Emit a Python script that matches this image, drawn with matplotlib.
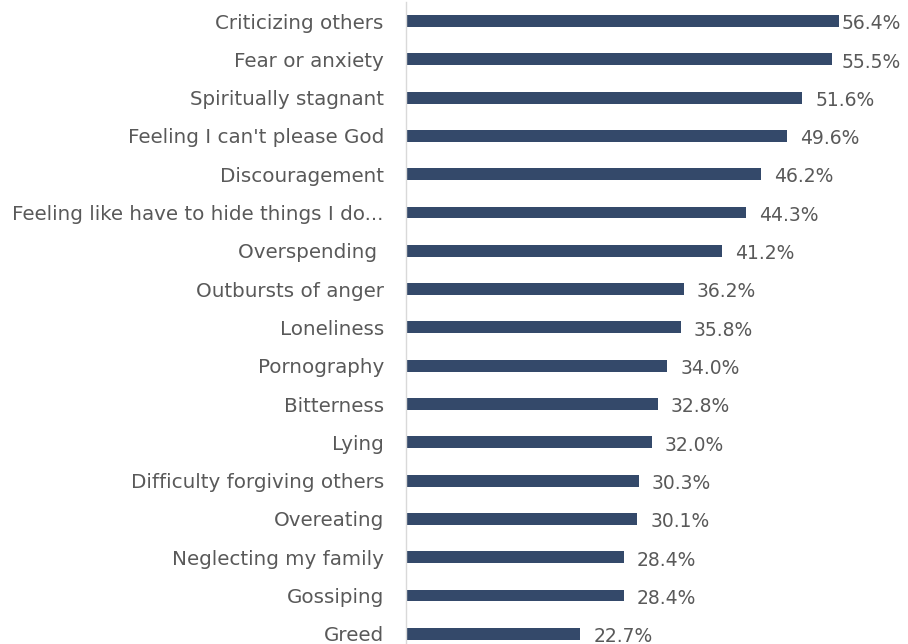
import matplotlib
matplotlib.use("Agg")
import matplotlib.pyplot as plt

categories = ["Criticizing others", "Fear or anxiety", "Spiritually stagnant",
              "Feeling I can't please God", "Discouragement",
              "Feeling like have to hide things I do...", "Overspending ",
              "Outbursts of anger", "Loneliness", "Pornography", "Bitterness",
              "Lying", "Difficulty forgiving others", "Overeating",
              "Neglecting my family", "Gossiping", "Greed"]
values = [56.4, 55.5, 51.6, 49.6, 46.2, 44.3, 41.2, 36.2, 35.8, 34.0, 32.8,
          32.0, 30.3, 30.1, 28.4, 28.4, 22.7]
value_labels = ["56.4%", "55.5%", "51.6%", "49.6%", "46.2%", "44.3%", "41.2%",
                "36.2%", "35.8%", "34.0%", "32.8%", "32.0%", "30.3%", "30.1%",
                "28.4%", "28.4%", "22.7%"]

W, H = 908, 644
fig = plt.figure(figsize=(W / 100, H / 100), dpi=100)
left_px, right_px = 406, 900
top_px, bot_px = 1.85, 653
ax = fig.add_axes([left_px / W, (H - bot_px) / H, (right_px - left_px) / W, (bot_px - top_px) / H])

color = "#34496A"
pos = list(range(len(categories)))
ax.barh(pos, values, height=0.31, color=color)
ax.set_ylim(len(categories) - 0.5, -0.5)
ax.set_xlim(0, (right_px - left_px) / 7.68)

ax.set_yticks(pos)
ax.set_yticklabels(categories, fontsize=14.3, color="#595959")
ax.tick_params(axis="y", length=0, pad=16)
ax.set_xticks([])
for s in ["top", "right", "bottom"]:
    ax.spines[s].set_visible(False)
ax.spines["left"].set_color("#D9D9D9")
ax.spines["left"].set_linewidth(1)

offset_pt = 13 * 72 / 100
anns = []
for p, v, lab in zip(pos, values, value_labels):
    a = ax.annotate(lab, (v, p), xytext=(offset_pt, -2), textcoords="offset points",
                    va="center", ha="left", fontsize=13.5, color="#595959",
                    annotation_clip=False)
    anns.append(a)

fig.canvas.draw()
renderer = fig.canvas.get_renderer()
for a in anns:
    bb = a.get_window_extent(renderer)
    if bb.x1 > 901:
        shift = (bb.x1 - 901) * 72 / 100
        x, y = a.xyann
        a.xyann = (max(x - shift, 2 * 72 / 100), y)

fig.savefig("out.png", dpi=100)
